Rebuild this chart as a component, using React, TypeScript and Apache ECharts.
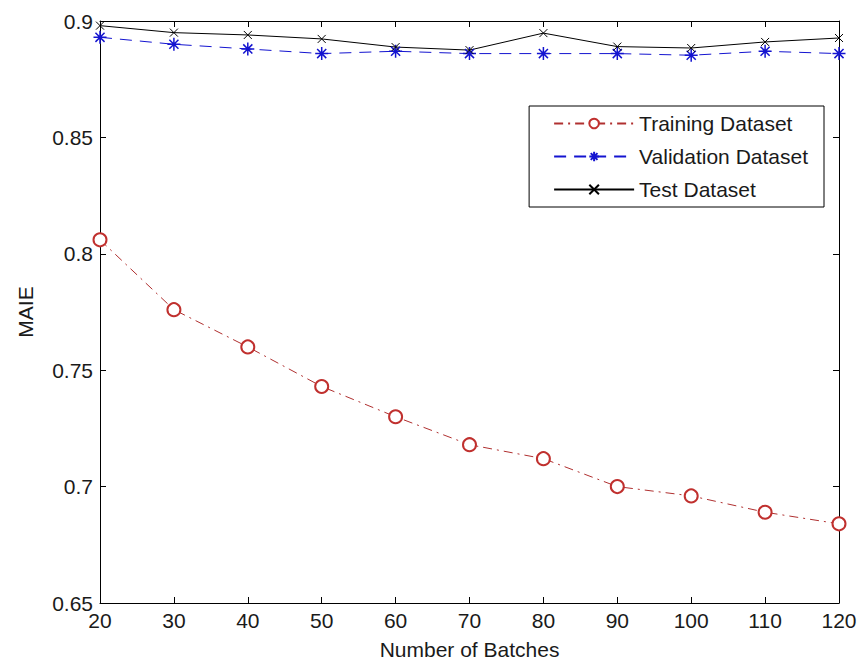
import React, { useEffect, useRef } from "react";
import * as echarts from "echarts";

const batches = [20, 30, 40, 50, 60, 70, 80, 90, 100, 110, 120];
const training = [0.806, 0.776, 0.76, 0.743, 0.73, 0.718, 0.712, 0.7, 0.696, 0.689, 0.684];
const validation = [0.893, 0.89, 0.888, 0.886, 0.887, 0.886, 0.886, 0.886, 0.8853, 0.887, 0.886];
const test = [0.898, 0.895, 0.894, 0.8923, 0.8888, 0.8875, 0.8948, 0.889, 0.8884, 0.891, 0.8927];
const seriesNames = ["Training Dataset", "Validation Dataset", "Test Dataset"];

const FONT = "'Liberation Sans', Arial, Helvetica, sans-serif";
const TXT = "#1a1a1a";
const FS = 21;

const starPath = "path://M5,0L5,10M0,5L10,5M1.5,1.5L8.5,8.5M8.5,1.5L1.5,8.5";
const crossPath = "path://M0,0L10,10M10,0L0,10";

export default function App() {
  const ref = useRef<HTMLDivElement>(null);
  useEffect(() => {
    document.body.style.margin = "0";
    const chart = echarts.init(ref.current!, null, { renderer: "svg" });
    const pairs = (ys: number[]) => batches.map((x, i) => [x, ys[i]]);
    const axisCommon = {
      axisLine: { show: true, onZero: false, lineStyle: { color: "#000", width: 1 } },
      axisTick: { show: true, inside: true, length: 6, lineStyle: { color: "#000" } },
      splitLine: { show: false },
    };
    chart.setOption({
      animation: false,
      backgroundColor: "#fff",
      textStyle: { fontFamily: FONT },
      grid: { left: 100, right: 22, top: 21, bottom: 63 },
      legend: {
        data: seriesNames,
        orient: "vertical",
        right: 37,
        top: 106,
        itemWidth: 80,
        itemHeight: 12,
        itemGap: 12,
        padding: [7, 16, 7, 24],
        backgroundColor: "#fff",
        borderColor: "#000",
        borderWidth: 1,
        borderRadius: 0,
        textStyle: { fontFamily: FONT, fontSize: FS, color: TXT },
      },
      xAxis: [
        {
          type: "value",
          min: 20,
          max: 120,
          interval: 10,
          position: "bottom",
          name: "Number of Batches",
          nameLocation: "middle",
          nameGap: 36,
          nameTextStyle: { fontFamily: FONT, fontSize: FS, color: TXT },
          axisLabel: { fontFamily: FONT, fontSize: FS, color: TXT, margin: 7 },
          ...axisCommon,
        },
        {
          type: "value",
          min: 20,
          max: 120,
          interval: 10,
          position: "top",
          axisLabel: { show: false },
          ...axisCommon,
        },
      ],
      yAxis: [
        {
          type: "value",
          min: 0.65,
          max: 0.9,
          interval: 0.05,
          position: "left",
          name: "MAIE",
          nameLocation: "middle",
          nameGap: 64,
          nameTextStyle: { fontFamily: FONT, fontSize: FS, color: TXT },
          axisLabel: { fontFamily: FONT, fontSize: FS, color: TXT, margin: 7 },
          ...axisCommon,
        },
        {
          type: "value",
          min: 0.65,
          max: 0.9,
          interval: 0.05,
          position: "right",
          axisLabel: { show: false },
          ...axisCommon,
        },
      ],
      series: [
        {
          name: seriesNames[0],
          type: "line",
          data: pairs(training),
          color: "#c0302e",
          symbol: "emptyCircle",
          symbolSize: 13,
          clip: false,
          lineStyle: { color: "#b03030", width: 1, type: [9, 5, 2, 5] },
          itemStyle: { color: "#c0302e", borderColor: "#c0302e", borderWidth: 1 },
        },
        {
          name: seriesNames[1],
          type: "line",
          data: pairs(validation),
          color: "#1414d0",
          symbol: starPath,
          symbolSize: 13,
          clip: false,
          lineStyle: { color: "#1414d0", width: 1, type: [12, 8] },
          itemStyle: { color: "#1414d0", borderColor: "#1414d0", borderWidth: 1.5 },
        },
        {
          name: seriesNames[2],
          type: "line",
          data: pairs(test),
          color: "#000",
          symbol: crossPath,
          symbolSize: 8,
          clip: false,
          lineStyle: { color: "#000", width: 1, type: "solid" },
          itemStyle: { color: "#000", borderColor: "#000", borderWidth: 1 },
        },
      ],
    });
    return () => chart.dispose();
  }, []);
  return <div ref={ref} style={{ width: 861, height: 666 }} />;
}
